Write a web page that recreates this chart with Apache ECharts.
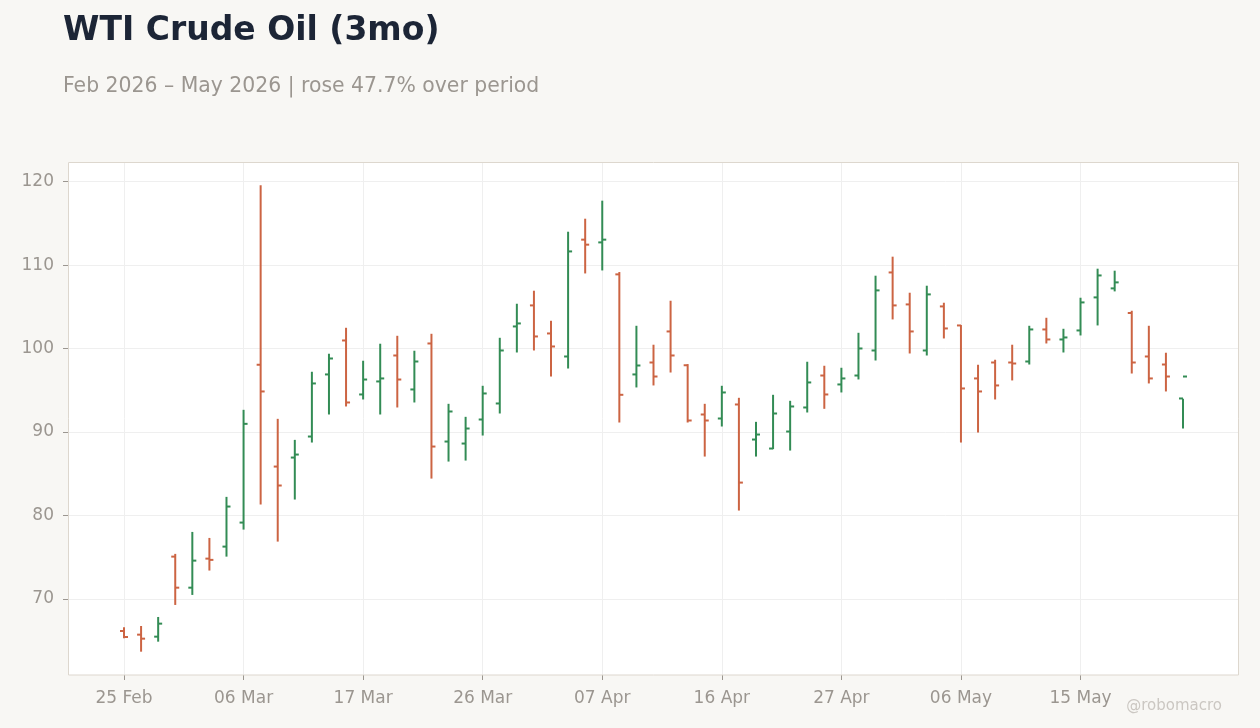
<!DOCTYPE html>
<html>
<head>
<meta charset="utf-8">
<title>WTI Crude Oil (3mo)</title>
<script src="https://cdn.jsdelivr.net/npm/echarts@6/dist/echarts.min.js"></script>
<style>
    html, body { margin: 0; padding: 0; background: #f8f7f4; }
    #chart { width: 1260px; height: 728px; }
</style>
</head>
<body>
<div id="chart"></div>
<script>
// trading days, Feb 25 -> May 26 2026
const dates = [
    '25 Feb', '26 Feb', '27 Feb', '02 Mar', '03 Mar', '04 Mar', '05 Mar',
    '06 Mar', '09 Mar', '10 Mar', '11 Mar', '12 Mar', '13 Mar', '16 Mar',
    '17 Mar', '18 Mar', '19 Mar', '20 Mar', '23 Mar', '24 Mar', '25 Mar',
    '26 Mar', '27 Mar', '30 Mar', '31 Mar', '01 Apr', '02 Apr', '06 Apr',
    '07 Apr', '08 Apr', '09 Apr', '10 Apr', '13 Apr', '14 Apr', '15 Apr',
    '16 Apr', '17 Apr', '20 Apr', '21 Apr', '22 Apr', '23 Apr', '24 Apr',
    '27 Apr', '28 Apr', '29 Apr', '30 Apr', '01 May', '04 May', '05 May',
    '06 May', '07 May', '08 May', '11 May', '12 May', '13 May', '14 May',
    '15 May', '18 May', '19 May', '20 May', '21 May', '22 May', '26 May'
];

const opens = [
    66.16, 65.72, 65.48, 75.07, 71.35, 74.83, 76.27,
    79.15, 98.06, 85.86, 86.94, 89.46, 96.90, 100.97,
    94.50, 96.06, 99.17, 95.10, 100.61, 88.86, 88.62,
    91.50, 93.42, 102.65, 105.17, 101.81, 99.05, 113.05,
    112.72, 108.89, 96.90, 98.33, 102.05, 98.00, 92.10,
    91.62, 93.30, 89.10, 88.02, 90.06, 92.94, 96.77,
    95.70, 96.77, 99.77, 109.12, 105.29, 99.77, 105.05,
    102.77, 96.42, 98.33, 98.33, 98.45, 102.29, 101.09,
    102.17, 106.13, 107.21, 104.26, 99.05, 98.09, 94.02
];

const highs = [
    66.61, 66.76, 67.84, 75.40, 78.03, 77.31, 82.23,
    92.66, 119.56, 91.58, 89.06, 97.22, 99.38, 102.49,
    98.54, 100.58, 101.53, 99.74, 101.77, 93.38, 91.82,
    95.54, 101.29, 105.37, 106.93, 103.33, 114.00, 115.56,
    117.72, 109.17, 102.73, 100.46, 105.73, 98.14, 93.38,
    95.54, 94.10, 91.22, 94.46, 93.74, 98.42, 97.94,
    97.70, 101.89, 108.73, 111.01, 106.69, 107.53, 105.49,
    102.82, 98.06, 98.66, 100.46, 102.73, 103.69, 102.37,
    106.09, 109.57, 109.33, 104.53, 102.73, 99.50, 94.00
];

const lows = [
    65.29, 63.68, 64.88, 69.28, 70.48, 73.40, 75.07,
    78.31, 81.31, 76.87, 81.91, 88.74, 92.10, 93.06,
    93.90, 92.10, 92.94, 93.54, 84.42, 86.46, 86.58,
    89.58, 92.22, 99.53, 99.77, 96.65, 97.61, 109.00,
    109.36, 91.14, 95.34, 95.58, 97.13, 91.14, 87.06,
    90.66, 80.59, 87.06, 87.95, 87.78, 92.34, 92.78,
    94.74, 96.30, 98.57, 103.49, 99.41, 99.17, 101.21,
    88.74, 89.94, 93.90, 96.18, 98.09, 100.61, 99.53,
    101.57, 102.77, 106.85, 97.01, 95.82, 94.86, 90.42
];

const closes = [
    65.44, 65.24, 67.04, 71.35, 74.59, 74.68, 81.07,
    90.98, 94.86, 83.59, 87.30, 95.82, 98.81, 93.54,
    96.29, 96.42, 96.29, 98.45, 88.26, 92.46, 90.42,
    94.62, 99.77, 103.01, 101.45, 100.25, 111.64, 112.45,
    113.05, 94.46, 97.97, 96.65, 99.17, 91.38, 91.38,
    94.74, 83.94, 89.70, 92.22, 93.06, 95.94, 94.50,
    96.42, 100.01, 106.97, 105.17, 102.05, 106.49, 102.41,
    95.22, 94.86, 95.58, 98.21, 102.29, 101.09, 101.33,
    105.53, 108.76, 107.93, 98.33, 96.42, 96.65, 96.65
];

const yTicks = [70, 80, 90, 100, 110, 120];

const UP_COLOR = '#338c55';
const DOWN_COLOR = '#cc6443';
const LABEL_COLOR = '#9b9690';
const FONT = 'DejaVu Sans';

const lowest = Math.min(...lows);
const highest = Math.max(...highs);
const pad = (highest - lowest) * 0.05;
const Y_MIN = lowest - pad;
const Y_MAX = highest + pad;

const first = closes[0];
const last = closes[closes.length - 1];
const change = (last / first - 1) * 100;
const subtitle = `Feb 2026 – May 2026 | ${change >= 0 ? 'rose' : 'fell'} ${Math.abs(change).toFixed(1)}% over period`;

function renderOhlc(params, api) {
    const i = api.value(0);
    const x = api.coord([i, 0])[0];
    const yOpen = api.coord([i, api.value(1)])[1];
    const yHigh = api.coord([i, api.value(2)])[1];
    const yLow = api.coord([i, api.value(3)])[1];
    const yClose = api.coord([i, api.value(4)])[1];
    const color = api.value(4) >= api.value(1) ? UP_COLOR : DOWN_COLOR;
    const style = { stroke: color, lineWidth: 2 };
    return {
        type: 'group',
        children: [
            { type: 'line', shape: { x1: x, y1: yHigh, x2: x, y2: yLow }, style: style },
            { type: 'line', shape: { x1: x - 4, y1: yOpen, x2: x, y2: yOpen }, style: style },
            { type: 'line', shape: { x1: x, y1: yClose, x2: x + 4, y2: yClose }, style: style }
        ]
    };
}

const chart = echarts.init(document.getElementById('chart'));

const option = {
    backgroundColor: '#f8f7f4',
    animation: false,
    textStyle: { fontFamily: FONT },
    title: {
        text: 'WTI Crude Oil (3mo)',
        subtext: subtitle,
        left: 58,
        top: 10,
        itemGap: 29,
        textStyle: { fontSize: 33, fontWeight: 'bold', color: '#1c2536', fontFamily: FONT },
        subtextStyle: { fontSize: 20.4, color: LABEL_COLOR, fontFamily: FONT }
    },
    grid: [
        // frame grid: background, y labels, horizontal lines
        { left: 68, right: 22, top: 162, bottom: 53, show: true, backgroundColor: '#ffffff', borderWidth: 0 },
        // bar grid: first bar at x=124, last at x=1183
        { left: 124, right: 77, top: 162, bottom: 53 }
    ],
    xAxis: [
        { type: 'value', gridIndex: 0, min: 0, max: 1, show: false },
        {
            type: 'category',
            gridIndex: 1,
            data: dates,
            boundaryGap: false,
            axisLine: { show: false },
            axisTick: { show: true, interval: 6, length: 5, lineStyle: { color: LABEL_COLOR } },
            axisLabel: { interval: 6, color: LABEL_COLOR, fontSize: 17, margin: 15 },
            splitLine: { show: true, interval: 6, lineStyle: { color: '#efefef' } }
        }
    ],
    yAxis: [
        {
            type: 'value',
            gridIndex: 0,
            min: Y_MIN,
            max: Y_MAX,
            axisLine: { show: false },
            axisTick: { show: true, length: 5, customValues: yTicks, lineStyle: { color: LABEL_COLOR } },
            axisLabel: { color: LABEL_COLOR, fontSize: 17, margin: 14, customValues: yTicks },
            splitLine: { show: true, lineStyle: { color: '#efefef' } }
        },
        { type: 'value', gridIndex: 1, min: Y_MIN, max: Y_MAX, show: false }
    ],
    graphic: [
        {
            type: 'rect',
            z: 100,
            silent: true,
            shape: { x: 68.5, y: 162.5, width: 1170, height: 512.5 },
            style: { fill: null, stroke: '#ddd7ce', lineWidth: 1 }
        },
        {
            type: 'text',
            right: 38,
            top: 699,
            style: { text: '@robomacro', fontSize: 15, fill: '#cbc7c2', fontFamily: FONT }
        }
    ],
    series: [{
        type: 'custom',
        xAxisIndex: 1,
        yAxisIndex: 1,
        renderItem: renderOhlc,
        encode: { x: 0, y: [1, 2, 3, 4] },
        data: dates.map((d, i) => [i, opens[i], highs[i], lows[i], closes[i]])
    }]
};

chart.setOption(option);
</script>
</body>
</html>
